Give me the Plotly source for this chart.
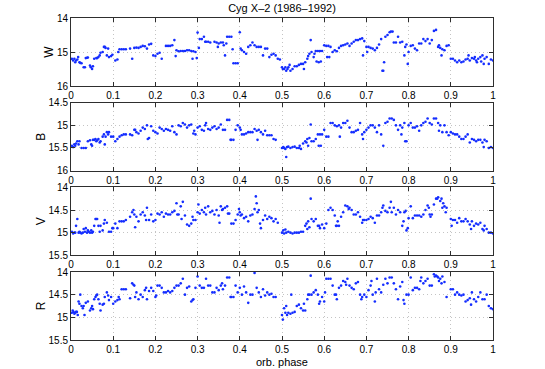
import plotly.graph_objects as go

TITLE = "Cyg X\u20132 (1986\u20131992)"
BANDS = ["W", "B", "V", "R"]
X_TICKS = [0, 0.1, 0.2, 0.3, 0.4, 0.5, 0.6, 0.7, 0.8, 0.9, 1]
X_TICK_TEXT = ["0", "0.1", "0.2", "0.3", "0.4", "0.5", "0.6", "0.7", "0.8", "0.9", "1"]
W_TICKS = [14, 15, 16]
B_TICKS = [14.5, 15, 15.5, 16]
V_TICKS = [14, 14.5, 15, 15.5]
R_TICKS = [14, 14.5, 15, 15.5]
W_RANGE = [16, 14]
B_RANGE = [16, 14.5]
V_RANGE = [15.5, 14]
R_RANGE = [15.5, 14]

w_points = [(0.002,15.2),(0.005,15.25),(0.008,15.2),(0.01,15.3),(0.012,15.25),(0.015,15.22),(0.017,15.15),(0.02,15.3),(0.022,15.32),
(0.025,15.33),(0.03,15.45),(0.033,15.45),(0.035,15.18),(0.038,15.17),(0.04,15.16),(0.045,15.4),(0.047,15.45),(0.05,15.5),(0.052,15.42),(0.055,15.2),(0.06,15.18),(0.062,15.18),(0.065,15.15),(0.068,15.1),(0.07,15.02),(0.075,15.0),(0.078,14.85),(0.08,14.85),(0.082,14.88),(0.085,15.1),(0.088,14.9),(0.09,15.15),(0.095,15.12),(0.098,15.08),
(0.105,15.25),(0.11,15.22),(0.112,15.0),(0.115,14.92),(0.12,14.92),(0.125,14.92),(0.13,14.92),(0.14,14.9),(0.145,15.2),(0.15,14.88),(0.155,14.87),(0.16,14.88),(0.165,14.85),(0.17,14.82),(0.175,14.83),(0.18,14.9),(0.185,14.78),(0.19,14.76),(0.195,15.1),(0.2,15.12),(0.205,15.05),(0.21,15.02),(0.215,15.2),(0.225,14.82),(0.23,14.82),(0.235,14.82),(0.24,14.8),(0.245,14.65),(0.248,15.12),(0.25,14.95),(0.255,14.98),(0.26,14.97),(0.265,14.97),(0.27,14.97),(0.275,14.95),(0.28,14.95),(0.285,14.97),(0.288,15.2),(0.29,14.98),(0.295,15.0),(0.298,15.18),(0.3,14.43),(0.303,14.88),(0.305,14.62),(0.31,14.62),(0.315,14.55),(0.318,14.7),(0.32,14.7),(0.325,14.7),(0.33,14.72),(0.34,14.7),(0.345,14.72),(0.348,14.85),(0.35,14.75),(0.355,14.72),(0.36,14.72),(0.362,14.8),(0.365,15.1),(0.368,14.75),(0.37,14.55),(0.375,14.55),(0.38,14.55),(0.383,14.92),(0.385,15.33),(0.39,15.33),(0.395,15.33),(0.4,14.42),(0.402,14.9),(0.405,14.95),(0.41,15.0),(0.415,15.05),(0.42,14.85),(0.425,14.8),(0.43,14.72),(0.435,14.8),(0.44,14.85),(0.445,14.85),(0.45,14.85),(0.455,15.1),(0.46,14.9),(0.465,14.9),(0.47,15.15),(0.475,15.08),(0.48,15.05),(0.485,15.1),(0.49,15.2),(0.495,15.22),
(0.5,15.45),(0.502,15.5),(0.505,15.5),(0.508,15.45),(0.51,15.55),(0.513,15.5),(0.515,15.45),(0.518,15.38),(0.52,15.55),(0.525,15.5),(0.53,15.42),(0.535,15.42),(0.54,15.38),(0.545,15.35),(0.55,15.35),(0.552,15.5),(0.555,15.3),(0.56,15.2),(0.562,15.12),(0.565,15.05),(0.568,14.65),(0.57,15.0),(0.575,15.15),
(0.577,15.05),(0.58,14.97),(0.585,14.97),(0.59,14.97),(0.595,14.97),(0.582,15.28),(0.587,15.3),(0.592,15.28),
(0.6,14.8),(0.605,14.82),(0.61,14.82),(0.615,14.85),(0.607,15.15),(0.612,15.15),(0.62,15.0),(0.625,14.95),(0.63,14.98),(0.635,14.88),(0.64,14.82),(0.645,14.8),(0.65,14.78),(0.655,14.75),(0.66,14.82),(0.665,14.75),(0.67,14.7),(0.675,14.65),(0.68,14.65),(0.685,14.62),(0.69,14.6),(0.692,15.1),(0.695,14.68),(0.7,14.85),(0.702,15.0),(0.705,14.85),(0.71,14.88),(0.715,14.9),(0.72,14.95),(0.725,14.88),(0.73,14.78),(0.735,14.62),(0.738,15.55),(0.74,15.55),(0.742,15.3),(0.745,14.55),(0.75,14.5),(0.755,14.42),(0.758,14.4),(0.762,14.4),(0.765,14.72),(0.77,14.72),(0.775,14.55),(0.78,14.72),(0.785,14.7),(0.79,15.1),(0.792,14.85),(0.795,14.78),(0.798,15.35),(0.8,15.0),(0.805,14.82),(0.81,14.8),(0.815,14.9),(0.82,14.95),(0.825,14.75),(0.83,14.75),(0.835,14.62),(0.84,14.68),(0.845,14.62),(0.85,14.75),(0.855,14.65),(0.86,14.38),(0.865,14.35),(0.87,14.85),(0.872,14.8),(0.875,14.88),(0.878,15.1),(0.88,14.92),(0.885,14.95),(0.89,14.82),(0.895,14.8),(0.9,15.2),(0.905,15.2),(0.91,15.25),(0.915,15.3),(0.92,15.25),(0.925,15.3),(0.93,15.28),(0.935,15.22),(0.94,15.2),(0.945,15.25),(0.95,15.18),(0.955,15.2),(0.96,15.25),(0.965,15.2),(0.97,15.15),(0.975,15.1),(0.978,15.35),(0.98,15.2),(0.985,15.15),(0.99,15.35),(0.995,15.22),(1.0,15.25),
(0.942,15.1),(0.962,15.3),(0.972,15.28),(0.957,15.15)]

b_points = [(0.002,15.45),(0.005,15.48),(0.008,15.42),(0.01,15.45),(0.012,15.4),(0.015,15.35),(0.018,15.42),(0.02,15.35),
(0.025,15.5),(0.03,15.5),(0.035,15.5),(0.04,15.35),(0.045,15.33),(0.048,15.42),(0.05,15.45),(0.052,15.32),(0.055,15.32),(0.058,15.3),(0.06,15.35),(0.062,15.33),(0.065,15.3),(0.068,15.38),(0.07,15.35),(0.075,15.25),(0.078,15.2),(0.08,15.42),(0.082,15.25),(0.085,15.15),(0.088,15.2),(0.09,15.15),(0.095,15.25),(0.1,15.25),(0.105,15.35),(0.11,15.3),(0.115,15.25),(0.12,15.22),(0.125,15.2),(0.13,15.2),(0.14,15.2),(0.145,15.22),(0.15,15.1),(0.152,15.1),(0.155,15.15),(0.16,15.18),(0.165,15.12),(0.17,15.05),(0.175,15.08),(0.18,15.0),(0.182,15.3),(0.185,15.28),(0.19,15.02),(0.195,15.12),(0.2,15.15),(0.205,15.18),(0.21,15.05),(0.215,15.08),(0.22,15.12),(0.225,15.08),(0.23,15.1),(0.235,15.12),(0.24,15.02),(0.245,15.15),(0.25,15.2),(0.255,15.0),(0.26,15.02),(0.265,14.95),(0.27,14.98),(0.275,15.05),(0.28,15.0),(0.285,14.98),(0.29,15.18),(0.292,15.12),(0.295,15.2),(0.3,15.05),(0.305,15.02),(0.31,15.1),(0.315,15.12),(0.318,15.0),(0.32,14.95),(0.325,15.08),(0.33,15.1),(0.335,15.05),(0.34,15.02),(0.345,15.08),(0.35,15.05),(0.355,14.98),(0.36,15.1),(0.365,15.1),(0.37,14.88),(0.375,14.88),(0.378,15.32),(0.38,15.32),(0.385,15.32),(0.39,15.1),(0.395,15.0),(0.4,15.05),(0.402,15.1),(0.405,15.2),(0.41,15.2),(0.415,15.18),(0.42,15.15),(0.425,15.15),(0.43,15.15),(0.435,15.08),(0.44,15.12),(0.442,15.32),(0.445,15.1),(0.45,15.15),(0.455,15.2),(0.46,15.12),(0.465,15.22),(0.47,15.22),(0.475,15.22),(0.48,15.3),(0.485,15.32),
(0.5,15.5),(0.503,15.48),(0.505,15.5),(0.508,15.52),(0.51,15.7),(0.512,15.48),(0.515,15.47),(0.52,15.5),(0.525,15.48),(0.53,15.47),(0.535,15.5),(0.54,15.5),(0.542,15.45),(0.545,15.52),(0.55,15.4),(0.555,15.35),(0.558,15.38),(0.56,15.3),(0.562,15.45),(0.565,15.28),(0.568,14.98),(0.57,15.35),
(0.575,15.35),(0.58,15.3),(0.585,15.2),(0.59,15.2),(0.595,15.2),(0.587,15.45),(0.592,15.45),(0.6,15.1),(0.605,15.25),(0.61,15.25),(0.615,14.95),(0.62,14.95),(0.625,15.0),(0.63,15.02),(0.635,15.0),(0.64,15.05),(0.637,15.25),(0.645,14.95),(0.65,14.95),(0.655,14.9),(0.66,15.05),(0.665,15.15),(0.67,15.15),(0.675,15.12),(0.68,15.1),(0.685,14.95),(0.69,15.2),(0.692,15.3),(0.695,15.15),(0.7,15.1),(0.705,15.05),(0.71,15.0),(0.715,15.0),(0.72,15.05),(0.725,15.15),(0.73,15.0),(0.735,15.2),(0.74,15.45),(0.745,14.95),(0.75,14.92),(0.755,14.85),(0.76,14.85),(0.765,14.88),(0.77,15.0),(0.775,15.1),(0.78,15.0),(0.783,15.2),(0.785,15.05),(0.79,14.95),(0.792,15.35),(0.795,15.35),(0.8,15.0),(0.805,14.95),(0.81,15.05),(0.815,15.05),(0.82,15.02),(0.825,15.12),(0.83,15.0),(0.835,14.95),(0.84,14.92),(0.845,14.85),(0.85,14.95),(0.855,14.98),(0.86,14.85),(0.865,14.85),(0.87,14.95),(0.872,15.12),(0.875,15.0),(0.88,15.15),(0.885,15.0),(0.89,15.15),(0.895,15.22),(0.9,15.15),(0.905,15.18),(0.91,15.2),(0.915,15.2),(0.92,15.25),(0.925,15.3),(0.93,15.3),(0.935,15.25),(0.94,15.2),(0.945,15.38),(0.95,15.3),(0.955,15.32),(0.96,15.35),(0.965,15.32),(0.97,15.32),(0.975,15.38),(0.978,15.48),(0.98,15.32),(0.985,15.35),(0.99,15.5),(0.995,15.48),(1.0,15.5)]

v_points = [(0.002,14.98),(0.005,15.02),(0.008,15.0),(0.01,15.0),(0.012,14.85),(0.015,14.7),(0.018,15.0),(0.02,14.98),(0.022,15.0),(0.025,15.02),(0.028,15.0),(0.03,14.92),(0.033,14.98),(0.035,14.9),(0.038,15.0),(0.04,14.95),(0.042,14.98),(0.045,15.0),(0.048,14.95),(0.05,15.0),(0.052,14.98),(0.055,14.85),(0.058,14.7),(0.06,14.7),(0.062,14.7),(0.065,14.85),(0.068,14.98),(0.07,14.85),(0.075,14.95),(0.078,14.8),(0.08,14.72),(0.085,14.78),(0.09,14.98),(0.095,14.98),(0.098,14.9),(0.1,14.9),(0.105,14.8),(0.11,14.9),(0.115,14.75),(0.12,14.75),(0.125,14.75),(0.13,14.72),(0.14,14.65),(0.145,14.55),(0.148,14.5),(0.15,14.6),(0.152,14.88),(0.155,14.65),(0.16,14.75),(0.165,14.6),(0.17,14.55),(0.175,14.62),(0.178,14.72),(0.18,14.45),(0.185,14.72),(0.19,14.6),(0.195,14.75),(0.2,14.72),(0.205,14.58),(0.21,14.6),(0.215,14.55),(0.22,14.65),(0.225,14.58),(0.23,14.6),(0.235,14.6),(0.24,14.55),(0.245,14.52),(0.25,14.35),(0.252,14.6),(0.255,14.6),(0.26,14.42),(0.262,14.7),(0.265,14.32),(0.27,14.62),(0.275,14.82),(0.28,14.85),(0.285,14.8),(0.288,14.65),(0.29,14.72),(0.295,14.72),(0.3,14.55),(0.302,14.38),(0.305,14.58),(0.31,14.5),(0.315,14.55),(0.318,14.45),(0.32,14.6),(0.325,14.42),(0.33,14.55),(0.335,14.52),(0.34,14.6),(0.345,14.5),(0.35,14.62),(0.352,14.78),(0.355,14.42),(0.358,14.5),(0.36,14.48),(0.365,14.45),(0.37,14.42),(0.372,14.58),(0.375,14.58),(0.38,14.8),(0.385,14.8),(0.39,14.72),(0.395,14.6),(0.398,14.48),(0.4,14.55),(0.402,14.62),(0.405,14.6),(0.41,14.68),(0.415,14.65),(0.42,14.75),(0.425,14.62),(0.43,14.6),(0.435,14.48),(0.438,14.2),(0.44,14.35),(0.442,14.55),(0.445,14.5),(0.448,14.8),(0.45,14.9),(0.455,14.72),(0.46,14.62),(0.465,14.7),(0.47,14.65),(0.475,14.68),(0.48,14.75),(0.485,14.7),(0.49,14.78),
(0.5,15.0),(0.503,14.95),(0.505,15.02),(0.508,14.93),(0.51,15.0),(0.515,14.98),(0.52,15.0),(0.525,15.02),(0.53,15.0),(0.535,15.0),(0.54,15.0),(0.545,14.98),(0.55,14.98),(0.555,14.85),(0.558,14.8),(0.56,14.92),(0.562,14.75),(0.565,14.88),(0.568,14.25),(0.57,14.7),
(0.575,14.75),(0.58,14.7),(0.585,14.85),(0.588,14.85),(0.59,14.9),(0.595,14.82),(0.6,14.9),(0.605,14.8),(0.61,14.5),(0.615,14.45),(0.62,14.5),(0.625,14.62),(0.628,14.85),(0.63,14.85),(0.632,14.75),(0.635,14.85),(0.64,14.65),(0.645,14.55),(0.65,14.4),(0.655,14.42),(0.658,14.48),(0.66,14.45),(0.665,14.5),(0.67,14.6),(0.675,14.6),(0.68,14.55),(0.685,14.65),(0.69,14.78),(0.692,14.72),(0.695,14.72),(0.7,14.72),(0.705,14.7),(0.71,14.65),(0.715,14.68),(0.72,14.78),(0.725,14.62),(0.73,14.62),(0.735,14.55),(0.738,14.45),(0.74,14.4),(0.745,14.52),(0.75,14.55),(0.755,14.45),(0.758,14.32),(0.76,14.55),(0.765,14.45),(0.77,14.6),(0.775,14.5),(0.78,14.55),(0.785,14.85),(0.788,14.75),(0.79,14.55),(0.793,14.52),(0.795,14.95),(0.798,14.9),(0.8,14.68),(0.805,14.42),(0.81,14.68),(0.815,14.62),(0.82,14.62),(0.825,14.62),(0.83,14.65),(0.835,14.6),(0.84,14.5),(0.845,14.4),(0.848,14.45),(0.85,14.6),(0.852,14.65),(0.855,14.6),(0.86,14.38),(0.865,14.25),(0.868,14.25),(0.87,14.22),(0.875,14.3),(0.878,14.25),(0.88,14.45),(0.882,14.35),(0.885,14.42),(0.888,14.55),(0.89,14.45),(0.9,14.7),(0.902,14.85),(0.905,14.72),(0.91,14.72),(0.915,14.78),(0.92,14.68),(0.925,14.75),(0.93,14.75),(0.935,14.7),(0.94,14.75),(0.945,14.82),(0.948,14.92),(0.95,14.75),(0.955,14.85),(0.96,14.8),(0.965,14.82),(0.97,14.78),(0.975,14.92),(0.978,14.95),(0.98,14.85),(0.985,14.92),(0.99,15.0),(0.995,15.0),(1.0,15.02)]

r_points = [(0.002,14.9),(0.004,14.85),(0.006,14.88),(0.008,14.92),(0.01,14.9),(0.012,14.88),(0.014,14.88),(0.016,14.95),(0.018,14.65),(0.02,14.7),(0.022,14.5),(0.025,14.75),(0.028,14.8),(0.03,14.75),(0.032,14.95),(0.035,14.68),(0.04,14.65),(0.045,14.85),(0.048,14.8),(0.05,14.75),(0.052,14.82),(0.055,14.6),(0.058,14.55),(0.06,14.52),(0.062,14.5),(0.065,14.6),(0.068,14.7),(0.07,14.85),(0.075,14.72),(0.078,14.7),(0.08,14.55),(0.085,14.45),(0.088,14.52),(0.09,14.62),(0.095,14.55),(0.1,14.7),(0.105,14.65),(0.11,14.62),(0.113,14.55),(0.115,14.6),(0.12,14.38),(0.125,14.38),(0.13,14.38),(0.14,14.58),(0.145,14.25),(0.148,14.28),(0.15,14.3),(0.152,14.55),(0.155,14.45),(0.16,14.6),(0.165,14.5),(0.17,14.55),(0.175,14.4),(0.178,14.35),(0.18,14.6),(0.185,14.42),(0.19,14.35),(0.195,14.42),(0.2,14.55),(0.202,14.52),(0.205,14.3),(0.21,14.3),(0.215,14.35),(0.22,14.45),(0.225,14.45),(0.23,14.42),(0.235,14.45),(0.24,14.42),(0.245,14.35),(0.25,14.3),(0.255,14.3),(0.26,14.25),(0.265,14.15),(0.27,14.5),(0.275,14.35),(0.28,14.32),(0.285,14.65),(0.288,14.62),(0.29,14.6),(0.295,14.35),(0.3,14.1),(0.305,14.3),(0.31,14.35),(0.315,14.35),(0.32,14.15),(0.325,14.3),(0.33,14.3),(0.335,14.45),(0.34,14.45),(0.345,14.35),(0.35,14.4),(0.355,14.3),(0.358,14.25),(0.36,14.38),(0.365,14.3),(0.37,14.12),(0.375,14.12),(0.378,14.55),(0.38,14.55),(0.385,14.55),(0.39,14.3),(0.395,14.45),(0.4,14.35),(0.405,14.5),(0.41,14.32),(0.415,14.45),(0.42,14.68),(0.425,14.5),(0.43,14.5),(0.435,14.02),(0.44,14.35),(0.445,14.45),(0.45,14.55),(0.455,14.38),(0.46,14.52),(0.465,14.45),(0.47,14.5),(0.475,14.48),(0.48,14.55),(0.485,14.55),
(0.5,14.95),(0.502,15.05),(0.505,14.8),(0.508,14.9),(0.51,14.75),(0.512,14.95),(0.515,14.9),(0.52,14.92),(0.522,14.5),(0.525,14.9),(0.53,14.88),(0.535,14.75),(0.54,14.72),(0.545,14.8),(0.55,14.85),(0.552,14.7),(0.555,14.85),(0.56,14.6),(0.562,14.5),(0.565,14.5),(0.568,14.08),(0.57,14.5),
(0.575,14.45),(0.58,14.4),(0.585,14.5),(0.588,14.7),(0.59,14.65),(0.595,14.55),(0.6,14.65),(0.602,14.45),(0.605,14.15),(0.61,14.15),(0.615,14.15),(0.62,14.3),(0.625,14.5),(0.628,14.5),(0.63,14.6),(0.635,14.35),(0.64,14.3),(0.645,14.2),(0.65,14.22),(0.652,14.28),(0.655,14.15),(0.66,14.3),(0.665,14.35),(0.67,14.38),(0.675,14.25),(0.68,14.22),(0.685,14.5),(0.688,14.6),(0.69,14.55),(0.695,14.5),(0.7,14.55),(0.705,14.4),(0.71,14.3),(0.712,14.2),(0.715,14.5),(0.72,14.65),(0.722,14.45),(0.725,14.15),(0.73,14.38),(0.735,14.45),(0.74,14.28),(0.745,14.15),(0.75,14.25),(0.755,14.12),(0.76,14.12),(0.765,14.25),(0.77,14.38),(0.775,14.6),(0.78,14.32),(0.785,14.22),(0.788,14.62),(0.79,14.7),(0.795,14.5),(0.8,14.5),(0.805,14.12),(0.81,14.4),(0.815,14.35),(0.82,14.35),(0.825,14.38),(0.828,14.2),(0.83,14.12),(0.835,14.25),(0.84,14.2),(0.845,14.15),(0.85,14.3),(0.855,14.3),(0.86,14.05),(0.862,14.1),(0.865,14.08),(0.868,14.1),(0.87,14.12),(0.872,14.2),(0.875,14.15),(0.878,14.25),(0.88,14.1),(0.885,14.22),(0.89,14.55),(0.9,14.38),(0.905,14.38),(0.91,14.5),(0.915,14.45),(0.92,14.5),(0.925,14.52),(0.93,14.5),(0.935,14.65),(0.94,14.62),(0.945,14.58),(0.948,14.72),(0.95,14.45),(0.955,14.6),(0.96,14.65),(0.965,14.55),(0.97,14.45),(0.975,14.6),(0.98,14.6),(0.985,14.5),(0.99,14.75),(0.995,14.8),(1.0,14.82)]

series = [w_points, b_points, v_points, r_points]
yticks = [W_TICKS, B_TICKS, V_TICKS, R_TICKS]
yranges = [W_RANGE, B_RANGE, V_RANGE, R_RANGE]

W_PX, H_PX = 545, 369
ML, MR, MT, MB = 71, 52, 18, 29
plot_w = W_PX - ML - MR
plot_h = H_PX - MT - MB
panel_h = 68.0
gap = (plot_h - 4 * panel_h) / 3.0

FONT = "Liberation Sans, Arial, Helvetica, sans-serif"
AX_COLOR = "#2e2e2e"
GRID_COLOR = "#c4c4c4"

fig = go.Figure()
layout = dict(
    width=W_PX, height=H_PX,
    margin=dict(l=ML, r=MR, t=MT, b=MB, pad=0),
    paper_bgcolor="white", plot_bgcolor="white",
    showlegend=False,
    font=dict(family=FONT, size=10, color="black"),
)
annotations = []

for i, (band, pts) in enumerate(zip(BANDS, series)):
    n = "" if i == 0 else str(i + 1)
    top_px = i * (panel_h + gap)
    d_top = 1 - top_px / plot_h
    d_bot = 1 - (top_px + panel_h) / plot_h
    xs = [p[0] for p in pts]
    ys = [p[1] for p in pts]
    fig.add_trace(go.Scatter(
        x=xs, y=ys, mode="markers", xaxis="x" + n, yaxis="y" + n,
        marker=dict(size=2.6, color="rgb(20,45,255)", line=dict(width=0)),
        hoverinfo="skip",
    ))
    layout["xaxis" + n] = dict(
        domain=[0, 1], anchor="y" + n, range=[0, 1],
        tickvals=X_TICKS, ticktext=X_TICK_TEXT,
        ticks="inside", ticklen=4, tickcolor=AX_COLOR, tickwidth=1,
        showline=True, linecolor=AX_COLOR, linewidth=1, mirror="ticks",
        showgrid=True, gridcolor=GRID_COLOR, griddash="1px,3px", gridwidth=1,
        zeroline=False, tickfont=dict(size=10, family=FONT, color="black"),
    )
    layout["yaxis" + n] = dict(
        domain=[max(d_bot, 0), min(d_top, 1)], anchor="x" + n, range=yranges[i],
        tickvals=yticks[i], ticktext=[("%g" % t) for t in yticks[i]],
        ticks="inside", ticklen=4, tickcolor=AX_COLOR, tickwidth=1,
        showline=True, linecolor=AX_COLOR, linewidth=1, mirror="ticks",
        showgrid=True, gridcolor=GRID_COLOR, griddash="1px,3px", gridwidth=1,
        zeroline=False, tickfont=dict(size=10, family=FONT, color="black"),
        title=dict(text=band, font=dict(size=12, family=FONT, color="black"), standoff=0),
    )

layout["title"] = dict(
    text=TITLE, x=(ML + (W_PX - MR)) / 2 / W_PX, xanchor="center",
    y=1 - 8.5 / H_PX, yanchor="middle", yref="container",
    font=dict(size=11, family=FONT, color="black"),
)
annotations.append(dict(
    text="orb. phase", xref="paper", yref="paper", x=0.5, xanchor="center",
    y=-(362 - (H_PX - MB)) / plot_h, yanchor="middle", showarrow=False,
    font=dict(size=11, family=FONT, color="black"),
))
layout["annotations"] = annotations
fig.update_layout(**layout)
fig.write_html(
    "out.html",
    config={"displayModeBar": False},
    post_script="document.body.style.margin='0';document.body.style.padding='0';document.documentElement.style.overflow='hidden';",
)
